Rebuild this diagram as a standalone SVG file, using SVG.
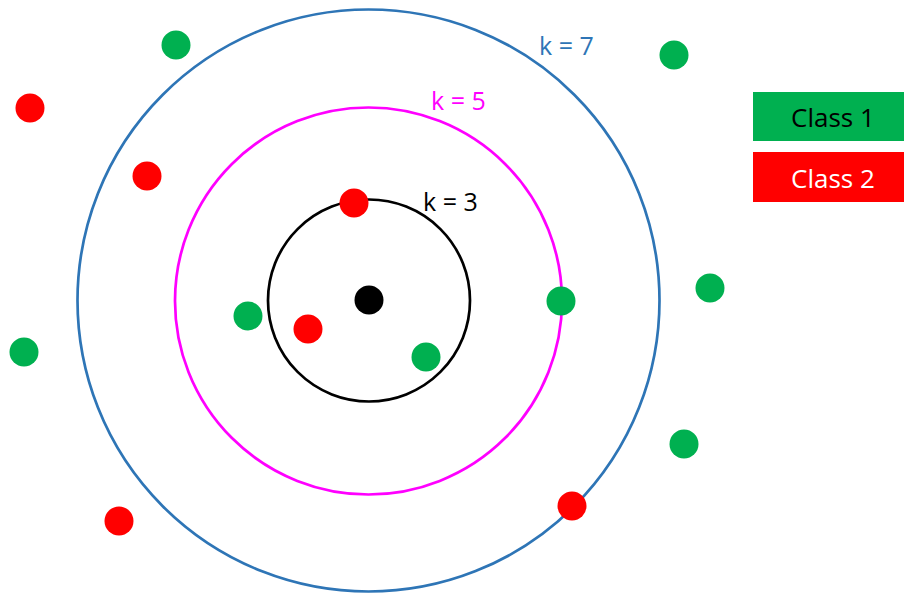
<svg xmlns="http://www.w3.org/2000/svg" width="904" height="594" viewBox="0 0 904 594">
<style>
.ring{fill:none;stroke-width:2.7}
.g{fill:#00B050}
.r{fill:#FF0000}
.lbl{font-family:"Open Sans","Liberation Sans",sans-serif;font-size:25px}
.leg{font-family:"Open Sans","Liberation Sans",sans-serif;font-size:26px;text-anchor:middle}
</style>
<rect width="904" height="594" fill="#fff"/>
<g id="connectors">
<circle id="ring7" class="ring" cx="368.5" cy="300.5" r="291" stroke="#2E75B6"/>
<circle id="ring5" class="ring" cx="368.5" cy="301" r="193.5" stroke="#FF00FF"/>
<circle id="ring3" class="ring" cx="369" cy="300.5" r="101" stroke="#000"/>
</g>
<g id="labels">
<text class="lbl" x="539" y="55" fill="#2E75B6">k = 7</text>
<text class="lbl" x="431" y="110" fill="#FF00FF">k = 5</text>
<text class="lbl" x="423" y="211" fill="#000">k = 3</text>
</g>
<g id="query"><circle cx="369" cy="300" r="14.5" fill="#000"/></g>
<g id="class1-points">
<circle class="g" cx="176" cy="45" r="14.5"/>
<circle class="g" cx="674" cy="55" r="14.5"/>
<circle class="g" cx="710" cy="288" r="14.5"/>
<circle class="g" cx="24" cy="352" r="14.5"/>
<circle class="g" cx="248" cy="316" r="14.5"/>
<circle class="g" cx="561" cy="301" r="14.5"/>
<circle class="g" cx="426" cy="357" r="14.5"/>
<circle class="g" cx="684" cy="444" r="14.5"/>
</g>
<g id="class2-points">
<circle class="r" cx="30" cy="108" r="14.5"/>
<circle class="r" cx="147" cy="176" r="14.5"/>
<circle class="r" cx="354" cy="203" r="14.5"/>
<circle class="r" cx="308" cy="329" r="14.5"/>
<circle class="r" cx="119" cy="521" r="14.5"/>
<circle class="r" cx="572" cy="506" r="14.5"/>
</g>
<g id="legend-class1">
<rect x="753" y="92" width="151" height="49" fill="#00B050"/>
<text class="leg" x="833" y="127" fill="#000">Class 1</text>
</g>
<g id="legend-class2">
<rect x="753" y="152" width="151" height="50" fill="#FF0000"/>
<text class="leg" x="833" y="188" fill="#fff">Class 2</text>
</g>
</svg>
